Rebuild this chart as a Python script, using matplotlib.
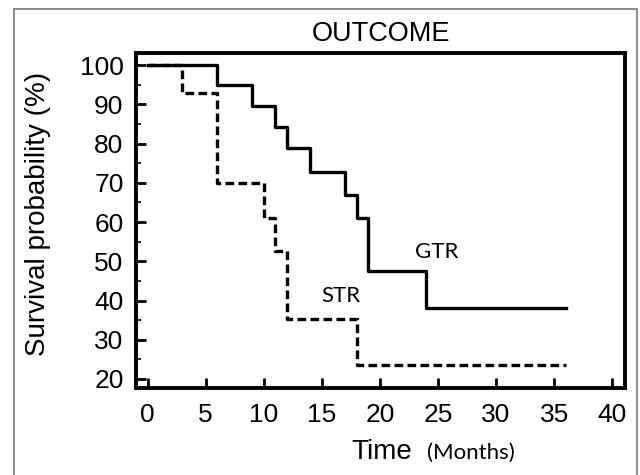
import matplotlib.pyplot as plt
from matplotlib.patches import Rectangle
from matplotlib.ticker import MultipleLocator

# Kaplan-Meier style curves
gtr_time = [0, 6, 9, 11, 12, 14, 17, 18, 19, 24, 36]
gtr_surv = [100, 95, 89.5, 84.3, 79, 72.8, 67, 61, 47.5, 38, 38]

str_time = [0, 3, 6, 10, 11, 12, 18, 36]
str_surv = [100, 93, 70, 61, 52.5, 35.2, 23.6, 23.6]

x_ticks = [0, 5, 10, 15, 20, 25, 30, 35, 40]
y_ticks = [20, 30, 40, 50, 60, 70, 80, 90, 100]

W, H = 640, 475
fig = plt.figure(figsize=(6.4, 4.75), dpi=100)
ax = fig.add_axes([136 / W, 1 - 388 / H, (625 - 136) / W, (388 - 53) / H])

ax.step(gtr_time, gtr_surv, where='post', color='black', lw=2.4)
ax.step(str_time, str_surv, where='post', color='black', lw=2.4,
        dashes=[2.6, 1.3])

ax.set_xlim(-1.0, 41.1)
ax.set_ylim(17.7, 103.1)
ax.set_xticks(x_ticks)
ax.set_yticks(y_ticks)
ax.yaxis.set_minor_locator(MultipleLocator(5))

for s in ax.spines.values():
    s.set_linewidth(2.8)
ax.tick_params(which='major', direction='in', length=7, width=2,
               labelsize=19, pad=9)
ax.tick_params(axis='y', which='minor', direction='in', length=3.5, width=1.2)
ax.tick_params(axis='x', pad=11)
for lab in ax.get_xticklabels() + ax.get_yticklabels():
    lab.set_fontfamily('Liberation Sans')

ax.text(24.9, 52.4, 'GTR', fontsize=16, family='Lato', ha='center', va='center')
ax.text(16.6, 41.1, 'STR', fontsize=16, family='Lato', ha='center', va='center')

# titles and axis labels in figure pixels
fig.text(381 / W, 1 - 41 / H, 'OUTCOME', fontsize=19.5, family='Liberation Sans',
         ha='center', va='baseline')
fig.text(38 / W, 1 - 214 / H, 'Survival probability (%)', fontsize=20,
         family='Liberation Sans', rotation=90, ha='center', va='center')
fig.text(351 / W, 1 - 459 / H, 'Time', fontsize=20, family='Liberation Sans',
         ha='left', va='baseline')
fig.text(427 / W, 1 - 459 / H, '(Months)', fontsize=16, family='Lato',
         ha='left', va='baseline')

# thin grey frame around the figure
fig.patches.append(Rectangle((14 / W, -0.1), (637 - 14) / W, 1.1 - 9 / H,
                             transform=fig.transFigure, fill=False,
                             edgecolor='#777777', lw=1.2))

fig.savefig('out.png', dpi=100)
